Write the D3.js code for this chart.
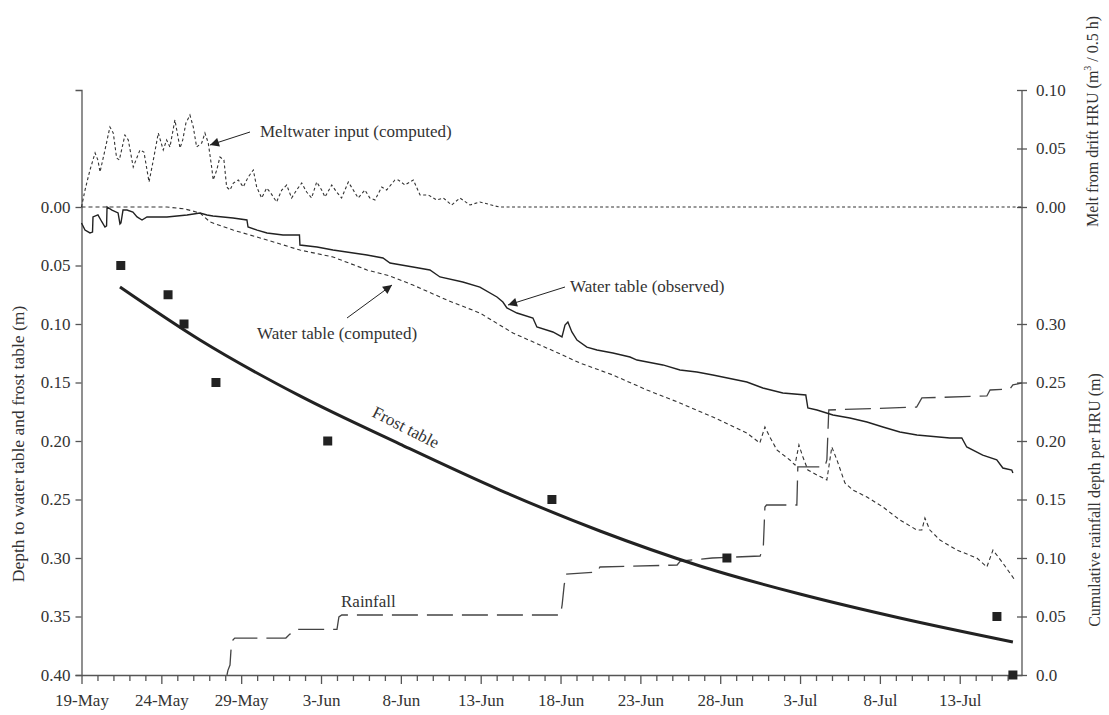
<!DOCTYPE html>
<html>
<head>
<meta charset="utf-8">
<script src="https://cdn.jsdelivr.net/npm/d3@7"></script>
<style>
  html, body { margin: 0; padding: 0; background: #fff; }
  svg { display: block; font-family: "Liberation Serif", "Times New Roman", serif; }
</style>
</head>
<body>
<svg id="chart" width="1109" height="715"></svg>
<script>
// All series use "day" = days after 19 May 00:00.
const dayMax = 58.9;
const dateLabels = ["19-May", "24-May", "29-May", "3-Jun", "8-Jun", "13-Jun",
                    "18-Jun", "23-Jun", "28-Jun", "3-Jul", "8-Jul", "13-Jul"];
const labelDays = [0, 5, 10, 15, 20, 25, 30, 35, 40, 45, 50, 55];

const depthTicks = [0, 0.05, 0.10, 0.15, 0.20, 0.25, 0.30, 0.35, 0.40];
const meltTicks = [0, 0.05, 0.10];
const meltTickLabels = ["0.00", "0.05", "0.10"];
const rainTicks = [0, 0.05, 0.10, 0.15, 0.20, 0.25, 0.30];
const rainTickLabels = ["0.0", "0.05", "0.10", "0.15", "0.20", "0.25", "0.30"];

// Meltwater input (computed), m3 per 0.5 h
const melt = [
  [0,0],[0.22,0.0145],[0.53,0.0316],[0.85,0.0462],[1.03,0.040],[1.16,0.0299],[1.47,0.0487],
  [1.78,0.0684],[1.99,0.0632],[2.20,0.0419],[2.37,0.0402],[2.72,0.0615],[2.93,0.0573],
  [3.24,0.0342],[3.66,0.0487],[3.91,0.047],[4.23,0.0214],[4.50,0.0402],[4.81,0.0632],
  [5.12,0.0487],[5.33,0.0573],[5.54,0.0513],[5.85,0.0744],[6.17,0.0504],[6.34,0.0573],
  [6.54,0.0718],[6.79,0.0786],[7.00,0.0684],[7.21,0.0513],[7.53,0.0547],[7.73,0.0632],
  [7.94,0.0547],[8.15,0.0342],[8.25,0.0231],[8.47,0.0316],[8.67,0.0427],[8.92,0.0402],
  [9.09,0.0171],[9.30,0.0145],[9.51,0.0205],[9.82,0.0231],[10.13,0.0171],[10.44,0.0256],
  [10.76,0.0316],[10.97,0.0171],[11.28,0.0077],[11.60,0.0162],[11.85,0.012],[12.22,0.0043],
  [12.54,0.0145],[12.85,0.0188],[13.16,0.0077],[13.47,0.0145],[13.79,0.0205],[14.10,0.0128],
  [14.41,0.0077],[14.73,0.0214],[15.04,0.0145],[15.25,0.0085],[15.67,0.0188],[15.98,0.0128],
  [16.29,0.0077],[16.71,0.0214],[17.02,0.0145],[17.33,0.0077],[17.75,0.0145],[18.06,0.0077],
  [18.38,0.006],[18.80,0.0171],[19.11,0.0145],[19.63,0.0231],[19.84,0.0231],[20.26,0.0188],
  [20.78,0.0231],[21.20,0.0103],[21.72,0.0103],[22.24,0.006],[22.66,0.0077],[23.18,0.0017],
  [23.70,0.0077],[24.33,0.0017],[24.95,0.0043],[25.89,0.0009],[26.2,0],[58.9,0]
];

// Depth to water table, observed (m)
const waterObserved = [
  [0,0.0137],[0.22,0.0197],[0.53,0.0222],[0.69,0.0214],[0.72,0.0085],[1.03,0.0068],
  [1.28,0.0128],[1.47,0.0171],[1.57,0.0162],[1.60,0.0],[1.91,0.0026],[2.29,0.0051],
  [2.41,0.0145],[2.47,0.0137],[2.60,0.0026],[2.85,0.0026],[3.22,0.0043],[3.48,0.0085],
  [3.79,0.0111],[4.10,0.0085],[5.35,0.0085],[6.61,0.0068],[7.42,0.0051],[7.86,0.0068],
  [8.23,0.0077],[9.49,0.0094],[10.36,0.0111],[10.43,0.0171],[11.0,0.0197],[11.62,0.0222],
  [12.62,0.0239],[13.65,0.0239],[13.68,0.0325],[14.75,0.0342],[15.75,0.0368],[17.88,0.041],
  [18.88,0.0436],[19.32,0.0479],[20.76,0.0513],[21.82,0.0538],[22.45,0.0598],[23.88,0.0641],
  [24.95,0.0684],[26.02,0.0769],[26.39,0.0812],[26.64,0.0863],[27.27,0.0906],[28.27,0.0949],
  [28.52,0.1026],[29.52,0.1068],[30.09,0.1111],[30.28,0.1009],[30.46,0.0983],[30.71,0.1068],
  [31.03,0.1137],[31.65,0.1197],[32.28,0.1222],[33.28,0.1248],[34.35,0.1282],[34.79,0.1308],
  [36.41,0.135],[37.48,0.1393],[38.54,0.141],[39.54,0.1436],[41.67,0.1496],[42.67,0.1547],
  [43.92,0.159],[45.36,0.1607],[45.49,0.1718],[46.06,0.1735],[47.06,0.1778],[48.12,0.1803],
  [49.19,0.1838],[50.19,0.188],[51.25,0.1923],[52.32,0.1949],[54.38,0.1974],[55.13,0.1974],
  [55.44,0.2051],[56.44,0.212],[57.32,0.2162],[57.70,0.2231],[58.26,0.2248],[58.33,0.2274]
];

// Depth to water table, computed (m)
const waterComputed = [
  [0,0],[5.35,0],[6.48,0.0017],[7.42,0.0051],[8.05,0.0128],[9.49,0.0197],[11.62,0.0282],
  [13.68,0.0368],[15.75,0.0427],[17.88,0.0538],[19.32,0.059],[20.76,0.0667],[22.88,0.0795],
  [24.95,0.0906],[27.02,0.1077],[28.71,0.1179],[30.40,0.1282],[31.21,0.1333],[33.28,0.1436],
  [35.41,0.1564],[37.48,0.1675],[39.54,0.1795],[41.67,0.1932],[42.48,0.2017],[42.80,0.188],
  [43.11,0.1966],[43.55,0.2077],[44.36,0.2162],[44.68,0.2205],[44.93,0.2034],[45.18,0.2137],
  [45.49,0.2248],[46.06,0.2291],[46.68,0.2333],[46.99,0.2051],[47.31,0.2162],[47.81,0.2359],
  [48.31,0.2419],[49.19,0.2479],[50.19,0.2564],[51.25,0.2675],[52.32,0.2761],[52.63,0.2761],
  [52.82,0.2658],[53.13,0.2761],[53.76,0.2846],[54.82,0.2932],[56.07,0.3],[56.70,0.3077],
  [57.08,0.2932],[57.70,0.3043],[58.45,0.3188]
];

// Depth to frost table, computed (m)
const frostTable = [
  [2.41,0.0684],[7.42,0.1137],[13.68,0.1615],[19.94,0.2026],[26.2,0.2419],[32.47,0.2769],
  [38.73,0.3068],[44.99,0.3308],[51.25,0.3513],[58.33,0.3718]
];

// Depth to frost table, measured (m)
const frostMeasured = [
  [2.46,0.05],[5.42,0.075],[6.42,0.10],[8.42,0.15],[15.42,0.20],[29.46,0.25],[40.42,0.30],
  [57.33,0.35],[58.33,0.40]
];

// Cumulative rainfall depth per HRU (m)
const rainfall = [
  [9.11,0],[9.17,0.004],[9.30,0.0085],[9.36,0.021],[9.49,0.030],[9.60,0.0316],[12.8,0.0316],
  [13.05,0.035],[13.43,0.0368],[13.56,0.039],[16.0,0.039],[16.12,0.0496],[16.3,0.0513],
  [30.0,0.0513],[30.1,0.06],[30.23,0.077],[30.35,0.0863],[32.28,0.088],[32.47,0.0923],
  [37.3,0.094],[37.5,0.0974],[39.5,0.100],[42.5,0.1017],[42.7,0.1094],[42.8,0.1436],
  [42.9,0.1453],[44.8,0.1453],[44.86,0.1778],[46.55,0.1778],[46.68,0.1838],[46.8,0.2265],
  [52.3,0.229],[52.63,0.2368],[56.7,0.2385],[56.9,0.2436],[58.14,0.2444],[58.33,0.2479],
  [58.9,0.2496]
];

const svg = d3.select("#chart");
const ink = "#222";
const axisInk = "#555";
const textInk = "#333";
const fontSize = 17;

const plotLeft = 81.5, plotRight = 1022, plotTop = 90, plotBottom = 675;

const x = d3.scaleLinear().domain([0, dayMax]).range([plotLeft, plotRight]);
const yDepth = d3.scaleLinear().domain([-0.10, 0.40]).range([plotTop, plotBottom]);
const yMelt = d3.scaleLinear().domain([0, 0.10]).range([yDepth(0), plotTop]);
const yRain = d3.scaleLinear().domain([0, 0.30]).range([plotBottom, yDepth(0.10)]);

// ---- axes ----
function styleAxis(g) {
  g.selectAll("path.domain").attr("stroke", axisInk).attr("stroke-width", 1.3);
  g.selectAll(".tick line").attr("stroke", axisInk).attr("stroke-width", 1.3);
  g.selectAll(".tick text").attr("fill", textInk).attr("font-size", fontSize)
    .attr("font-family", "Liberation Serif, serif");
}

// left depth axis
const gLeft = svg.append("g").attr("transform", `translate(${plotLeft},0)`)
  .call(d3.axisLeft(yDepth).tickValues(depthTicks).tickFormat(d3.format(".2f"))
        .tickSizeOuter(0).tickSize(6).tickPadding(5));
styleAxis(gLeft);

// bottom date axis: daily minor ticks, labelled ticks every 5 days
const minorDays = d3.range(0, 59).filter(d => !labelDays.includes(d));
const gMinor = svg.append("g").attr("transform", `translate(0,${plotBottom})`)
  .call(d3.axisBottom(x).tickValues(minorDays).tickFormat("").tickSize(6).tickSizeOuter(0));
styleAxis(gMinor);
const gMajor = svg.append("g").attr("transform", `translate(0,${plotBottom})`)
  .call(d3.axisBottom(x).tickValues(labelDays).tickFormat((d, i) => dateLabels[i])
        .tickSize(9).tickPadding(10).tickSizeOuter(0));
styleAxis(gMajor);
gMajor.select("path.domain").remove();

// right axis line spanning both scales
svg.append("line").attr("x1", plotRight).attr("x2", plotRight)
  .attr("y1", plotTop).attr("y2", plotBottom)
  .attr("stroke", axisInk).attr("stroke-width", 1.3);

const gMelt = svg.append("g").attr("transform", `translate(${plotRight},0)`)
  .call(d3.axisRight(yMelt).tickValues(meltTicks).tickFormat((d, i) => meltTickLabels[i])
        .tickSize(5).tickPadding(9).tickSizeOuter(0));
styleAxis(gMelt);
gMelt.select("path.domain").remove();
gMelt.selectAll(".tick line").attr("x1", -5);

const gRain = svg.append("g").attr("transform", `translate(${plotRight},0)`)
  .call(d3.axisRight(yRain).tickValues(rainTicks).tickFormat((d, i) => rainTickLabels[i])
        .tickSize(5).tickPadding(9).tickSizeOuter(0));
styleAxis(gRain);
gRain.select("path.domain").remove();
gRain.selectAll(".tick line").attr("x1", -5);

// axis titles
svg.append("text")
  .attr("transform", `translate(24,${(305 + 583) / 2}) rotate(-90)`)
  .attr("text-anchor", "middle").attr("font-size", 17.5).attr("fill", textInk)
  .text("Depth to water table and frost table (m)");

const meltTitle = svg.append("text")
  .attr("transform", `translate(1098,${(5 + 238) / 2}) rotate(-90)`)
  .attr("text-anchor", "middle").attr("font-size", 16).attr("fill", textInk);
meltTitle.append("tspan").text("Melt from drift HRU (m");
meltTitle.append("tspan").attr("font-size", 10).attr("dy", -7).text("3");
meltTitle.append("tspan").attr("dy", 7).text(" / 0.5 h)");

svg.append("text")
  .attr("transform", `translate(1100,${(375 + 625) / 2}) rotate(-90)`)
  .attr("text-anchor", "middle").attr("font-size", 16).attr("fill", textInk)
  .text("Cumulative rainfall depth per HRU (m)");

// ---- series ----
const lineDepth = d3.line().x(d => x(d[0])).y(d => yDepth(d[1]));
const lineMelt = d3.line().x(d => x(d[0])).y(d => yMelt(d[1]));
const lineRain = d3.line().x(d => x(d[0])).y(d => yRain(d[1]));
const lineFrost = d3.line().x(d => x(d[0])).y(d => yDepth(d[1])).curve(d3.curveMonotoneX);

svg.append("path").datum(rainfall).attr("d", lineRain)
  .attr("fill", "none").attr("stroke", "#444").attr("stroke-width", 1.3)
  .attr("stroke-dasharray", "26,9");

svg.append("path").datum(melt).attr("d", lineMelt)
  .attr("fill", "none").attr("stroke", "#333").attr("stroke-width", 1.1)
  .attr("stroke-dasharray", "3,2.5");

svg.append("path").datum(waterComputed).attr("d", lineDepth)
  .attr("fill", "none").attr("stroke", "#333").attr("stroke-width", 1.1)
  .attr("stroke-dasharray", "4,3");

svg.append("path").datum(waterObserved).attr("d", lineDepth)
  .attr("fill", "none").attr("stroke", ink).attr("stroke-width", 1.4);

svg.append("path").datum(frostTable).attr("d", lineFrost)
  .attr("fill", "none").attr("stroke", ink).attr("stroke-width", 3);

const sq = 9;
svg.append("g").selectAll("rect").data(frostMeasured).join("rect")
  .attr("x", d => x(d[0]) - sq / 2).attr("y", d => yDepth(d[1]) - sq / 2)
  .attr("width", sq).attr("height", sq).attr("fill", ink);

// ---- annotations ----
svg.append("defs").append("marker")
  .attr("id", "head").attr("viewBox", "0 0 10 10").attr("refX", 10).attr("refY", 5)
  .attr("markerWidth", 11).attr("markerHeight", 9).attr("markerUnits", "userSpaceOnUse")
  .attr("orient", "auto")
  .append("path").attr("d", "M0,0 L10,5 L0,10 Z").attr("fill", ink);

function note(text, tx, ty, from, to) {
  svg.append("text").attr("x", tx).attr("y", ty).attr("font-size", fontSize)
    .attr("fill", textInk).text(text);
  if (from) {
    svg.append("line").attr("x1", from[0]).attr("y1", from[1]).attr("x2", to[0]).attr("y2", to[1])
      .attr("stroke", ink).attr("stroke-width", 1).attr("marker-end", "url(#head)");
  }
}
note("Meltwater input (computed)", 260, 137, [250, 132], [210, 145]);
note("Water table (observed)", 570, 292, [565, 287], [508, 305]);
note("Water table (computed)", 257, 339, [347, 318], [392, 285]);
note("Rainfall", 341, 607);

svg.append("text")
  .attr("transform", "translate(371,416) rotate(27)")
  .attr("font-size", fontSize).attr("fill", textInk).text("Frost table");
</script>
</body>
</html>
